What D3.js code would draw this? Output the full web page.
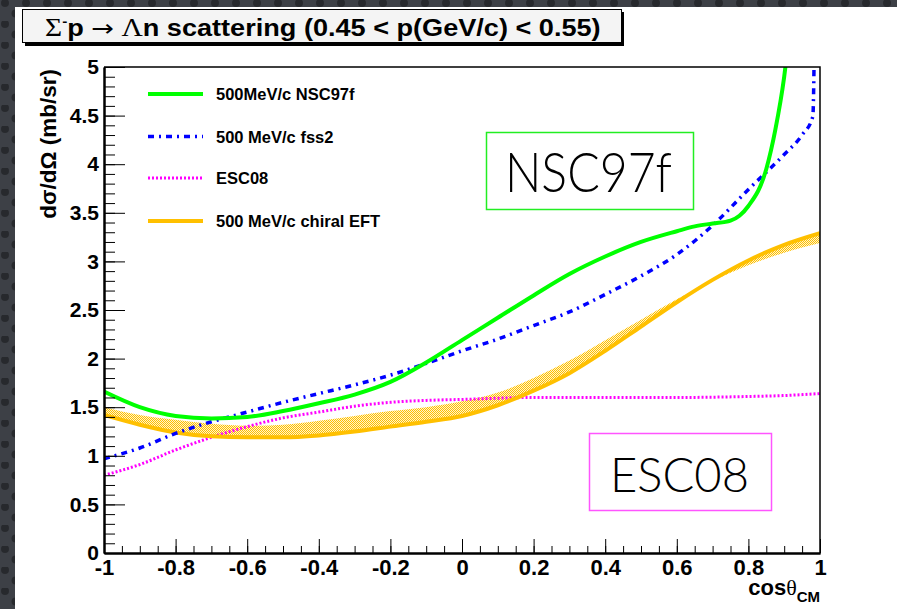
<!DOCTYPE html>
<html><head><meta charset="utf-8">
<script src="https://cdn.jsdelivr.net/npm/d3@7"></script>
<style>html,body{margin:0;padding:0;background:#3b3e44;} svg{display:block}</style>
</head><body><svg id="c" width="897" height="609"></svg>
<script>
// ---------- data ----------
const xTicks = [-1, -0.8, -0.6, -0.4, -0.2, 0, 0.2, 0.4, 0.6, 0.8, 1];
const xTickLabels = ["-1", "-0.8", "-0.6", "-0.4", "-0.2", "0", "0.2", "0.4", "0.6", "0.8", "1"];
const yTicks = [0, 0.5, 1, 1.5, 2, 2.5, 3, 3.5, 4, 4.5, 5];
const yTickLabels = ["0", "0.5", "1", "1.5", "2", "2.5", "3", "3.5", "4", "4.5", "5"];

const nscX = [-1, -0.9, -0.8, -0.7, -0.6, -0.5, -0.4, -0.3, -0.2, -0.1, 0, 0.1, 0.2, 0.3, 0.4, 0.5, 0.6, 0.65, 0.7, 0.75, 0.775, 0.8, 0.85, 0.875, 0.9, 0.91];
const nscY = [1.66, 1.50, 1.41, 1.385, 1.40, 1.46, 1.54, 1.63, 1.76, 1.96, 2.19, 2.42, 2.65, 2.87, 3.05, 3.20, 3.31, 3.36, 3.39, 3.42, 3.47, 3.57, 3.95, 4.35, 4.9, 5.2];

const fssX = [-1, -0.9, -0.8, -0.7, -0.6, -0.5, -0.4, -0.3, -0.2, -0.1, 0, 0.1, 0.2, 0.3, 0.4, 0.5, 0.6, 0.7, 0.8, 0.9, 0.95, 0.98, 0.985];
const fssY = [0.97, 1.08, 1.23, 1.35, 1.45, 1.55, 1.64, 1.73, 1.83, 1.95, 2.08, 2.20, 2.34, 2.48, 2.66, 2.85, 3.07, 3.37, 3.74, 4.10, 4.30, 4.49, 5.5];

const escX = [-1, -0.9, -0.8, -0.7, -0.6, -0.5, -0.4, -0.3, -0.2, -0.1, 0, 0.2, 0.4, 0.6, 0.8, 0.9, 1];
const escY = [0.80, 0.91, 1.06, 1.19, 1.30, 1.39, 1.45, 1.51, 1.55, 1.57, 1.58, 1.60, 1.60, 1.60, 1.61, 1.62, 1.64];

const eftX = [-1, -0.9, -0.8, -0.7, -0.6, -0.5, -0.4, -0.3, -0.2, -0.1, 0, 0.1, 0.2, 0.3, 0.4, 0.5, 0.6, 0.7, 0.8, 0.9, 1];
const eftY = [1.42, 1.32, 1.24, 1.20, 1.19, 1.19, 1.21, 1.25, 1.30, 1.35, 1.41, 1.52, 1.67, 1.85, 2.08, 2.33, 2.58, 2.81, 3.01, 3.17, 3.29];
const eftBandY = [1.50, 1.42, 1.37, 1.33, 1.31, 1.32, 1.36, 1.41, 1.46, 1.50, 1.56, 1.65, 1.80, 1.98, 2.19, 2.40, 2.61, 2.80, 2.96, 3.09, 3.19];

const legendLabels = ["500MeV/c NSC97f", "500 MeV/c fss2", "ESC08", "500 MeV/c chiral EFT"];
const boxLabels = ["NSC97f", "ESC08"];

// ---------- layout ----------
const svg = d3.select("#c");
const L = 104, R = 820, T = 67, B = 553;
const x = d3.scaleLinear().domain([-1, 1]).range([L, R]);
const y = d3.scaleLinear().domain([0, 5]).range([B, T]);

const defs = svg.append("defs");
const bg = defs.append("pattern").attr("id", "bgp").attr("patternUnits", "userSpaceOnUse")
  .attr("width", 21).attr("height", 21);
bg.append("rect").attr("width", 21).attr("height", 21).attr("fill", "#3d4046");
bg.append("circle").attr("cx", 5).attr("cy", 3).attr("r", 4).attr("fill", "#27292d");
bg.append("circle").attr("cx", 15.5).attr("cy", 13.5).attr("r", 4).attr("fill", "#27292d");

const hp = defs.append("pattern").attr("id", "hatch").attr("patternUnits", "userSpaceOnUse")
  .attr("width", 2).attr("height", 2);
hp.append("rect").attr("width", 2).attr("height", 2).attr("fill", "#fff3cc");
hp.append("rect").attr("x", 0).attr("y", 0).attr("width", 1).attr("height", 1).attr("fill", "#ffc000");
hp.append("rect").attr("x", 1).attr("y", 1).attr("width", 1).attr("height", 1).attr("fill", "#ffc000");

defs.append("clipPath").attr("id", "clip").append("rect")
  .attr("x", L).attr("y", T).attr("width", R - L).attr("height", B - T);

svg.append("rect").attr("width", 897).attr("height", 609).attr("fill", "url(#bgp)");
svg.append("rect").attr("x", 15).attr("y", 7).attr("width", 897 - 15).attr("height", 609 - 7).attr("fill", "#fff");

// ---------- title box ----------
svg.append("rect").attr("x", 25).attr("y", 12).attr("width", 599).attr("height", 34).attr("fill", "#000");
svg.append("rect").attr("x", 22.5).attr("y", 9.5).attr("width", 599).attr("height", 33)
  .attr("fill", "#f4f4f4").attr("stroke", "#000").attr("stroke-width", 1);
const sans = "'Liberation Sans', Arial, Helvetica, sans-serif";
const serif = "'Liberation Serif', 'DejaVu Serif', serif";
const title = svg.append("text").attr("x", 0).attr("y", 0).attr("font-size", 23).attr("fill", "#000");
title.append("tspan").attr("font-family", serif).attr("font-size", 25).text("Σ");
title.append("tspan").attr("font-family", sans).attr("font-weight", "bold").attr("font-size", 13).attr("dy", -10).text("-");
title.append("tspan").attr("font-family", sans).attr("font-weight", "bold").attr("dy", 10).text("p ");
title.append("tspan").attr("font-family", "'DejaVu Sans', sans-serif").text("→");
title.append("tspan").attr("font-family", serif).attr("font-size", 25).text(" Λ");
title.append("tspan").attr("font-family", sans).attr("font-weight", "bold").text("n scattering (0.45 < p(GeV/c) < 0.55)");
const tw = title.node().getBBox().width;
title.attr("transform", `translate(45,36) scale(${556 / tw},1)`);

// ---------- band & curves ----------
const plot = svg.append("g").attr("clip-path", "url(#clip)");
const bandData = eftX.map((v, i) => ({ x: v, a: eftY[i], b: eftBandY[i] }));
plot.append("path").datum(bandData)
  .attr("d", d3.area().x(d => x(d.x)).y0(d => y(d.a)).y1(d => y(d.b)).curve(d3.curveMonotoneX))
  .attr("fill", "url(#hatch)");

const line = d3.line().x(d => x(d[0])).y(d => y(d[1])).curve(d3.curveMonotoneX);
const zip = (a, b) => a.map((v, i) => [v, b[i]]);

const dashFss = "6,5,2,5";
plot.append("path").datum(zip(escX, escY)).attr("d", line).attr("fill", "none")
  .attr("stroke", "#ff00ff").attr("stroke-width", 3).attr("stroke-dasharray", "2,2");
plot.append("path").datum(zip(eftX, eftY)).attr("d", line).attr("fill", "none")
  .attr("stroke", "#ffc000").attr("stroke-width", 4);
plot.append("path").datum(zip(fssX, fssY)).attr("d", line).attr("fill", "none")
  .attr("stroke", "#0000ff").attr("stroke-width", 3.5).attr("stroke-dasharray", dashFss);
plot.append("path").datum(zip(nscX, nscY)).attr("d", line).attr("fill", "none")
  .attr("stroke", "#00ff00").attr("stroke-width", 4);

// ---------- axes ----------
const xMinor = d3.range(-1, 1.0001, 0.05).map(v => +v.toFixed(2));
const yMinor = d3.range(0, 5.0001, 0.1).map(v => +v.toFixed(2));

const gx = svg.append("g").attr("transform", `translate(0,${B})`);
gx.call(d3.axisBottom(x).tickValues(xMinor).tickFormat("").tickSize(-7).tickSizeOuter(0));
const gx2 = svg.append("g").attr("transform", `translate(0,${B})`);
gx2.call(d3.axisBottom(x).tickValues(xTicks).tickFormat((d, i) => xTickLabels[i]).tickSize(-14).tickSizeOuter(0).tickPadding(6));

const gy = svg.append("g").attr("transform", `translate(${L},0)`);
gy.call(d3.axisLeft(y).tickValues(yMinor).tickFormat("").tickSize(-11).tickSizeOuter(0));
const gy2 = svg.append("g").attr("transform", `translate(${L},0)`);
gy2.call(d3.axisLeft(y).tickValues(yTicks).tickFormat((d, i) => yTickLabels[i]).tickSize(-21).tickSizeOuter(0).tickPadding(5));

[gx, gx2, gy, gy2].forEach(g => {
  g.selectAll(".domain").attr("stroke", "#000").attr("stroke-width", 2);
  g.selectAll(".tick line").attr("stroke", "#000").attr("stroke-width", 1);
  g.selectAll("text").attr("font-family", sans).attr("font-weight", "bold").attr("font-size", 21).attr("fill", "#000");
});
gx2.selectAll(".tick text").attr("font-size", 22);

// frame top/right
svg.append("path").attr("d", `M${L},${T}H${R}V${B}`).attr("fill", "none").attr("stroke", "#000").attr("stroke-width", 1.5);

// axis titles
svg.append("text").attr("transform", `translate(56,${T + 2}) rotate(-90)`).attr("text-anchor", "end")
  .attr("font-family", sans).attr("font-weight", "bold").attr("font-size", 22.5)
  .text("dσ/dΩ (mb/sr)");
const xt = svg.append("text").attr("x", R).attr("y", 595).attr("text-anchor", "end").attr("font-size", 22).attr("fill", "#000");
xt.append("tspan").attr("font-family", sans).attr("font-weight", "bold").text("cos");
xt.append("tspan").attr("font-family", serif).text("θ");
xt.append("tspan").attr("font-family", sans).attr("font-weight", "bold").attr("font-size", 15).attr("dy", 7).text("CM");

// ---------- legend ----------
const legStyles = [
  { c: "#00ff00", w: 4, d: null },
  { c: "#0000ff", w: 3.5, d: dashFss },
  { c: "#ff00ff", w: 3, d: "2,2" },
  { c: "#ffc000", w: 4, d: null }
];
const legY = [94, 136.5, 178, 221];
legendLabels.forEach((lab, i) => {
  const s = legStyles[i];
  svg.append("line").attr("x1", 148).attr("x2", 203).attr("y1", legY[i]).attr("y2", legY[i])
    .attr("stroke", s.c).attr("stroke-width", s.w).attr("stroke-dasharray", s.d);
  svg.append("text").attr("x", 216).attr("y", legY[i] + 6).attr("font-family", sans)
    .attr("font-weight", "bold").attr("font-size", 16.5).text(lab);
});

// ---------- model boxes ----------
const light = "Lato, 'Open Sans', 'DejaVu Sans', sans-serif";
svg.append("rect").attr("x", 486.5).attr("y", 132.5).attr("width", 207).attr("height", 77)
  .attr("fill", "none").attr("stroke", "#22ee22").attr("stroke-width", 1.5);
svg.append("text").attr("x", 505).attr("y", 192).attr("font-family", light).attr("font-weight", 300)
  .attr("font-size", 55).attr("textLength", 167).attr("lengthAdjust", "spacingAndGlyphs").text(boxLabels[0]);
svg.append("rect").attr("x", 589.5).attr("y", 433.5).attr("width", 182).attr("height", 77)
  .attr("fill", "none").attr("stroke", "#ff55ff").attr("stroke-width", 1.5);
svg.append("text").attr("x", 610).attr("y", 492).attr("font-family", light).attr("font-weight", 300)
  .attr("font-size", 48).attr("textLength", 139).attr("lengthAdjust", "spacingAndGlyphs").text(boxLabels[1]);
</script></body></html>
